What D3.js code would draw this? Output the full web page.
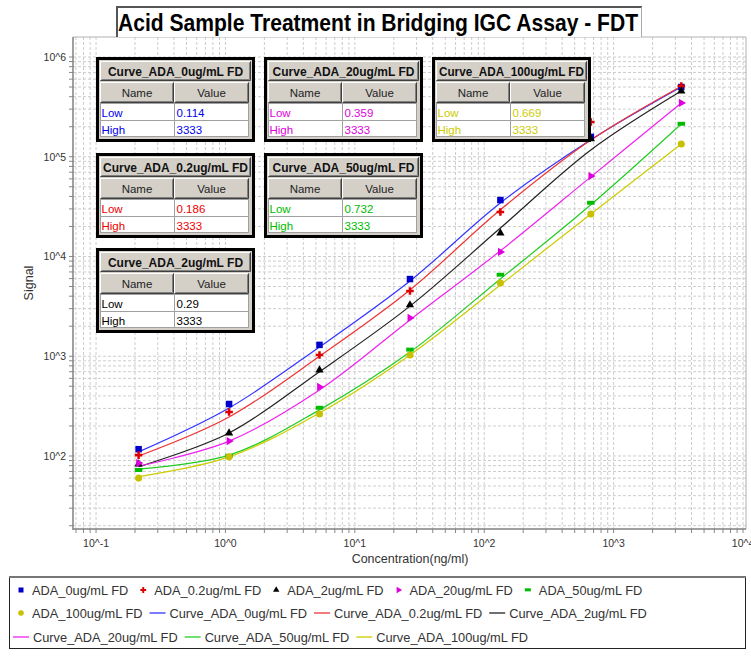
<!DOCTYPE html>
<html>
<head>
<meta charset="utf-8">
<script src="https://cdn.jsdelivr.net/npm/d3@7"></script>
<style>
  body { margin: 0; background: #fff; }
  svg { display: block; }
  text { font-family: "Liberation Sans", Arial, sans-serif; }
</style>
</head>
<body>
<svg id="chart"></svg>
<script>
// concentrations (ng/ml), 1:5 dilution series from 3333
const concentrations = [0.2133, 1.067, 5.333, 26.67, 133.3, 666.7, 3333];

const seriesNames = ['ADA_0ug/mL FD', 'ADA_0.2ug/mL FD', 'ADA_2ug/mL FD',
  'ADA_20ug/mL FD', 'ADA_50ug/mL FD', 'ADA_100ug/mL FD'];

// measured signal
const signal0 = [117, 332, 1300, 5940, 36800, 158000, 500000];
const signal02 = [102, 276, 1030, 4510, 27900, 223000, 512000];
const signal2 = [83, 170, 728, 3270, 17200, 151000, 456000];
const signal20 = [85, 141, 492, 2420, 11100, 64100, 346000];
const signal50 = [72, 100, 303, 1160, 6530, 34400, 213000];
const signal100 = [60, 98, 264, 1030, 5420, 26700, 134000];

// fitted curves, read at the same concentrations
const curve0 = [110, 303, 1240, 5680, 34400, 148000, 500000];
const curve02 = [100, 246, 1000, 4620, 29400, 147000, 510000];
const curve2 = [78, 170, 700, 3180, 19300, 117000, 456000];
const curve20 = [79, 141, 459, 2310, 11400, 62800, 346000];
const curve50 = [74, 102, 290, 1100, 5960, 33000, 213000];
const curve100 = [62, 98, 270, 1030, 5190, 26700, 134000];

// fit ranges shown in the little tables
const lowLimits = [0.114, 0.186, 0.29, 0.359, 0.732, 0.669];
const highLimits = [3333, 3333, 3333, 3333, 3333, 3333];

const xTickPowers = [-1, 0, 1, 2, 3, 4];
const yTickPowers = [2, 3, 4, 5, 6];

const signals = [signal0, signal02, signal2, signal20, signal50, signal100];
const curves = [curve0, curve02, curve2, curve20, curve50, curve100];

const markerColors = ['#0000cc', '#dd0000', '#000000', '#dd00dd', '#00bb00', '#c8c000'];
const lineColors = ['#3333ff', '#ee3333', '#222222', '#ee22ee', '#22cc22', '#cccc00'];
const tableTextColors = ['#0000ee', '#ee0000', '#000000', '#dd00dd', '#00bb00', '#cccc00'];
const markerKinds = ['square', 'cross', 'triangle', 'right', 'bar', 'circle'];

// which grid slot each table sits in
const tableColIndex = [0, 0, 0, 1, 1, 2];
const tableRowIndex = [0, 1, 2, 0, 1, 0];

const W = 751, H = 656;
const LEFT = 73, RIGHT = 746, TOP = 37, BOTTOM = 529;

const svg = d3.select('#chart').attr('width', W).attr('height', H);

const x = d3.scaleLog()
  .domain([Math.pow(10, -1.178), Math.pow(10, 4.023)])
  .range([LEFT, RIGHT]);
const y = d3.scaleLog()
  .domain([Math.pow(10, 1.268), Math.pow(10, 6.2005)])
  .range([BOTTOM, TOP]);

svg.append('defs').append('clipPath').attr('id', 'plot-clip')
  .append('rect')
  .attr('x', LEFT).attr('y', TOP)
  .attr('width', RIGHT - LEFT).attr('height', BOTTOM - TOP);

function logValues(scale) {
  const [a, b] = scale.domain();
  const out = [];
  for (let d = -3; d <= 7; d++) {
    for (let k = 1; k <= 9; k++) {
      const v = k * Math.pow(10, d);
      if (v >= a && v <= b) out.push(v);
    }
  }
  return out;
}

// grid
const grid = svg.append('g').attr('clip-path', 'url(#plot-clip)');
grid.selectAll('.vgrid')
  .data(logValues(x))
  .join('line')
  .attr('x1', d => x(d)).attr('x2', d => x(d))
  .attr('y1', TOP).attr('y2', BOTTOM)
  .attr('stroke', '#cdcdcd').attr('stroke-dasharray', '3,2');
grid.selectAll('.hgrid')
  .data(logValues(y))
  .join('line')
  .attr('y1', d => y(d)).attr('y2', d => y(d))
  .attr('x1', LEFT).attr('x2', RIGHT)
  .attr('stroke', '#cdcdcd').attr('stroke-dasharray', '3,2');

// plot frame
svg.append('line').attr('x1', LEFT).attr('x2', RIGHT).attr('y1', TOP).attr('y2', TOP)
  .attr('stroke', '#b0b0b0');
svg.append('line').attr('x1', RIGHT).attr('x2', RIGHT).attr('y1', TOP).attr('y2', BOTTOM)
  .attr('stroke', '#b0b0b0');

// axes ticks
svg.append('g').selectAll('line')
  .data(logValues(y))
  .join('line')
  .attr('x1', LEFT - 4).attr('x2', LEFT)
  .attr('y1', d => y(d)).attr('y2', d => y(d))
  .attr('stroke', '#888');
svg.append('g').selectAll('line')
  .data(logValues(x))
  .join('line')
  .attr('y1', BOTTOM).attr('y2', BOTTOM + 4)
  .attr('x1', d => x(d)).attr('x2', d => x(d))
  .attr('stroke', '#888');
svg.append('line').attr('x1', LEFT).attr('x2', LEFT).attr('y1', TOP).attr('y2', BOTTOM + 1)
  .attr('stroke', '#808080').attr('stroke-width', 1.5);
svg.append('line').attr('x1', LEFT).attr('x2', RIGHT).attr('y1', BOTTOM).attr('y2', BOTTOM)
  .attr('stroke', '#808080').attr('stroke-width', 1.5);

svg.append('g').selectAll('text')
  .data(yTickPowers)
  .join('text')
  .attr('x', LEFT - 7)
  .attr('y', d => y(Math.pow(10, d)) + 4)
  .attr('text-anchor', 'end')
  .attr('font-size', 10.5).attr('fill', '#333')
  .text(d => '10^' + d);
svg.append('g').selectAll('text')
  .data(xTickPowers)
  .join('text')
  .attr('x', d => x(Math.pow(10, d)))
  .attr('y', 547)
  .attr('text-anchor', 'middle')
  .attr('font-size', 10.5).attr('fill', '#333')
  .text(d => '10^' + d);

svg.append('text')
  .attr('transform', 'translate(33,283) rotate(-90)')
  .attr('text-anchor', 'middle')
  .attr('font-size', 12.5).attr('fill', '#333')
  .text('Signal');
svg.append('text')
  .attr('x', 410).attr('y', 563)
  .attr('text-anchor', 'middle')
  .attr('font-size', 12.5).attr('fill', '#333')
  .text('Concentration(ng/ml)');

// curves
const line = d3.line()
  .x(d => x(d[0]))
  .y(d => y(d[1]))
  .curve(d3.curveCatmullRom.alpha(0.5));

const plot = svg.append('g').attr('clip-path', 'url(#plot-clip)');
plot.selectAll('.curve')
  .data(curves)
  .join('path')
  .attr('class', 'curve')
  .attr('fill', 'none')
  .attr('stroke', (d, i) => lineColors[i])
  .attr('stroke-width', 1.2)
  .attr('d', d => line(d.map((v, j) => [concentrations[j], v])));

function drawMarker(g, kind, cx, cy, color, s) {
  if (kind === 'square') {
    g.append('rect').attr('x', cx - s / 2).attr('y', cy - s / 2)
      .attr('width', s).attr('height', s).attr('fill', color);
  } else if (kind === 'cross') {
    g.append('path')
      .attr('transform', `translate(${cx},${cy})`)
      .attr('d', d3.symbol(d3.symbolCross, s * s * 0.75)())
      .attr('fill', color);
  } else if (kind === 'triangle') {
    g.append('path')
      .attr('transform', `translate(${cx},${cy})`)
      .attr('d', d3.symbol(d3.symbolTriangle, s * s * 0.7)())
      .attr('fill', color);
  } else if (kind === 'right') {
    g.append('path')
      .attr('transform', `translate(${cx},${cy}) rotate(90)`)
      .attr('d', d3.symbol(d3.symbolTriangle, s * s * 0.7)())
      .attr('fill', color);
  } else if (kind === 'bar') {
    g.append('rect').attr('x', cx - s / 2 - 0.5).attr('y', cy - s / 3)
      .attr('width', s + 1).attr('height', s * 0.6).attr('fill', color);
  } else {
    g.append('circle').attr('cx', cx).attr('cy', cy).attr('r', s / 2 + 0.3)
      .attr('fill', color);
  }
}

const markers = plot.append('g');
signals.forEach((series, i) => {
  series.forEach((v, j) => {
    drawMarker(markers, markerKinds[i], x(concentrations[j]), y(v), markerColors[i], 6.5);
  });
});

// fit-range tables
const TW = 159, TH = 85;
const tableCols = [96, 264, 432];
const tableRows = [57, 153, 248];

function bevel(g, x0, y0, w, h) {
  g.append('rect').attr('x', x0).attr('y', y0).attr('width', w).attr('height', h)
    .attr('fill', '#d4d0c8');
  g.append('path')
    .attr('d', `M${x0 + 0.5},${y0 + h - 1}V${y0 + 0.5}H${x0 + w - 1}`)
    .attr('fill', 'none').attr('stroke', '#fff');
  g.append('path')
    .attr('d', `M${x0 + 0.5},${y0 + h - 0.5}H${x0 + w - 0.5}V${y0 + 0.5}`)
    .attr('fill', 'none').attr('stroke', '#404040');
  g.append('path')
    .attr('d', `M${x0 + 1.5},${y0 + h - 1.5}H${x0 + w - 1.5}V${y0 + 1.5}`)
    .attr('fill', 'none').attr('stroke', '#808080');
}

seriesNames.forEach((name, i) => {
  const x0 = tableCols[tableColIndex[i]];
  const y0 = tableRows[tableRowIndex[i]];
  const g = svg.append('g');
  const color = tableTextColors[i];

  g.append('rect').attr('x', x0 + 1.5).attr('y', y0 + 1.5)
    .attr('width', TW - 3).attr('height', TH - 3)
    .attr('fill', '#d4d0c8').attr('stroke', '#000').attr('stroke-width', 3);

  bevel(g, x0 + 4, y0 + 4, TW - 8, 20);
  const title = g.append('text')
    .attr('x', x0 + TW / 2).attr('y', y0 + 18.5)
    .attr('text-anchor', 'middle')
    .attr('font-size', 12).attr('font-weight', 'bold').attr('fill', '#111')
    .text('Curve_' + name);
  const tl = title.node().getComputedTextLength();
  if (tl > TW - 14) title.attr('textLength', TW - 14).attr('lengthAdjust', 'spacingAndGlyphs');

  const c0 = x0 + 4, c1 = x0 + 78, c2 = x0 + 153;
  bevel(g, c0, y0 + 25, c1 - c0, 21);
  bevel(g, c1, y0 + 25, c2 - c1, 21);
  g.append('text').attr('x', (c0 + c1) / 2).attr('y', y0 + 40)
    .attr('text-anchor', 'middle').attr('font-size', 11.5).attr('fill', '#222')
    .text('Name');
  g.append('text').attr('x', (c1 + c2) / 2).attr('y', y0 + 40)
    .attr('text-anchor', 'middle').attr('font-size', 11.5).attr('fill', '#222')
    .text('Value');

  g.append('rect').attr('x', c0 + 0.5).attr('y', y0 + 46.5)
    .attr('width', c2 - c0 - 1).attr('height', 33)
    .attr('fill', '#fff').attr('stroke', '#a0a0a0');
  g.append('line').attr('x1', c0).attr('x2', c2)
    .attr('y1', y0 + 63.5).attr('y2', y0 + 63.5).attr('stroke', '#a0a0a0');
  g.append('line').attr('x1', c1 + 0.5).attr('x2', c1 + 0.5)
    .attr('y1', y0 + 46).attr('y2', y0 + 80).attr('stroke', '#a0a0a0');

  const rows = [['Low', lowLimits[i]], ['High', highLimits[i]]];
  rows.forEach((r, k) => {
    g.append('text').attr('x', c0 + 1.5).attr('y', y0 + 59.5 + k * 17)
      .attr('font-size', 11.5).attr('fill', color).text(r[0]);
    g.append('text').attr('x', c1 + 2.5).attr('y', y0 + 59.5 + k * 17)
      .attr('font-size', 11.5).attr('fill', color).text(String(r[1]));
  });
});

// title
const tb = svg.append('g');
tb.append('rect').attr('x', 116).attr('y', 6).attr('width', 526).attr('height', 31)
  .attr('fill', '#fff');
tb.append('path').attr('d', 'M117,37V7H642').attr('fill', 'none')
  .attr('stroke', '#555').attr('stroke-width', 2);
tb.append('path').attr('d', 'M641.5,7V37').attr('fill', 'none')
  .attr('stroke', '#aaa');
tb.append('text')
  .attr('x', 378).attr('y', 31)
  .attr('text-anchor', 'middle')
  .attr('font-size', 24).attr('font-weight', 'bold').attr('fill', '#000')
  .attr('textLength', 520).attr('lengthAdjust', 'spacingAndGlyphs')
  .text('Acid Sample Treatment in Bridging IGC Assay - FDT');

// legend
const lg = svg.append('g');
lg.append('rect').attr('x', 9.5).attr('y', 577.5).attr('width', 736).attr('height', 71)
  .attr('fill', '#fff').attr('stroke', '#222');
lg.append('line').attr('x1', 9).attr('x2', 746).attr('y1', 577).attr('y2', 577)
  .attr('stroke', '#777').attr('stroke-width', 2);

const legendItems = seriesNames.map((n, i) => ({ label: n, kind: 'point', i }))
  .concat(seriesNames.map((n, i) => ({ label: 'Curve_' + n, kind: 'line', i })));

let lx = 13, row = 0;
const rowY = [590, 613, 637];
legendItems.forEach(item => {
  const t = lg.append('text')
    .attr('font-size', 12.8).attr('fill', '#333')
    .text(item.label);
  const tw = t.node().getComputedTextLength();
  const lead = item.kind === 'point' ? 19 : 20;
  if (lx + lead + tw > 740) { row += 1; lx = 13; }
  const cy = rowY[row];
  t.attr('x', lx + lead).attr('y', cy + 4.5);
  if (item.kind === 'point') {
    drawMarker(lg, markerKinds[item.i], lx + 8, cy, markerColors[item.i], 5);
  } else {
    lg.append('line').attr('x1', lx).attr('x2', lx + 16)
      .attr('y1', cy).attr('y2', cy)
      .attr('stroke', lineColors[item.i]).attr('stroke-width', 1.3);
  }
  lx += lead + tw + 7;
});
</script>
</body>
</html>
